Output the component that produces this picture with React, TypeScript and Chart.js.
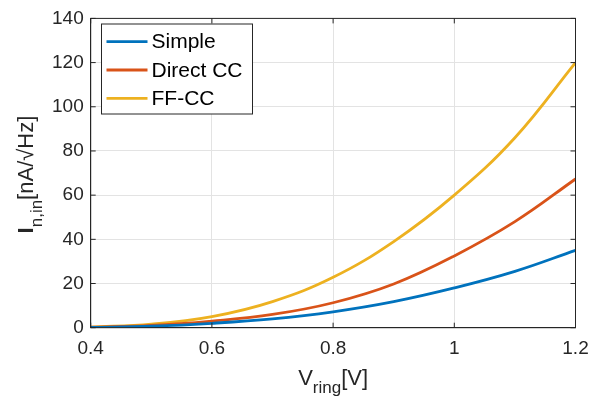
import React, { useEffect, useRef } from "react";
import { Chart, registerables } from "chart.js";

Chart.register(...registerables);

// ---- data ----
const xValues = [0.4, 0.5, 0.6, 0.7, 0.8, 0.9, 1.0, 1.1, 1.2];
const simpleValues = [0.1, 0.7, 2.0, 4.0, 7.2, 11.8, 18, 25.5, 35];
const directCCValues = [0.2, 1.0, 3.0, 6.0, 11.3, 19.8, 32.5, 48, 67.3];
const ffccValues = [0.3, 1.6, 5.0, 11.8, 22.8, 39, 60, 86, 120];

const seriesNames = ["Simple", "Direct CC", "FF-CC"];
const seriesColors = ["#0072BD", "#D95319", "#EDB120"];

const xTicks = [0.4, 0.6, 0.8, 1, 1.2];
const yTicks = [0, 20, 40, 60, 80, 100, 120, 140];

const FONT = "'Liberation Sans', Arial, Helvetica, sans-serif";
const AXIS_COLOR = "#262626";

const toPoints = (xs: number[], ys: number[]) => xs.map((x, i) => ({ x, y: ys[i] }));

const framePlugin = {
  id: "matlabFrame",
  afterDatasetsDraw(chart: any) {
    const { ctx, chartArea: a, scales } = chart;
    ctx.save();
    // box
    ctx.strokeStyle = AXIS_COLOR;
    ctx.lineWidth = 1;
    ctx.strokeRect(a.left, a.top, a.right - a.left, a.bottom - a.top);
    // inward ticks
    const tl = 5;
    ctx.beginPath();
    for (const v of xTicks) {
      const px = scales.x.getPixelForValue(v);
      ctx.moveTo(px, a.bottom);
      ctx.lineTo(px, a.bottom - tl);
      ctx.moveTo(px, a.top);
      ctx.lineTo(px, a.top + tl);
    }
    for (const v of yTicks) {
      const py = scales.y.getPixelForValue(v);
      ctx.moveTo(a.left, py);
      ctx.lineTo(a.left + tl, py);
      ctx.moveTo(a.right, py);
      ctx.lineTo(a.right - tl, py);
    }
    ctx.stroke();

    // legend
    const lx = 101.5, ly = 24, lw = 151, lh = 90;
    ctx.fillStyle = "#ffffff";
    ctx.fillRect(lx, ly, lw, lh);
    ctx.strokeStyle = AXIS_COLOR;
    ctx.lineWidth = 1;
    ctx.strokeRect(lx, ly, lw, lh);
    const rows = [41.7, 70, 98.3];
    ctx.font = `21px ${FONT}`;
    ctx.textBaseline = "middle";
    ctx.textAlign = "left";
    chart.data.datasets.forEach((ds: any, i: number) => {
      ctx.strokeStyle = ds.borderColor;
      ctx.lineWidth = 2.8;
      ctx.beginPath();
      ctx.moveTo(106.5, rows[i]);
      ctx.lineTo(147.5, rows[i]);
      ctx.stroke();
      ctx.fillStyle = "#000000";
      ctx.fillText(ds.label, 151.5, rows[i] + 1);
    });

    // axis titles
    ctx.fillStyle = AXIS_COLOR;
    ctx.textBaseline = "alphabetic";
    // x title: V_ring[V]
    {
      const big = `22px ${FONT}`;
      const small = `17px ${FONT}`;
      ctx.font = big;
      const w1 = ctx.measureText("V").width;
      const w3 = ctx.measureText("[V]").width;
      ctx.font = small;
      const w2 = ctx.measureText("ring").width;
      const total = w1 + w2 + w3;
      const cx = (a.left + a.right) / 2;
      let x = cx - total / 2;
      const base = 385;
      ctx.font = big;
      ctx.fillText("V", x, base);
      x += w1;
      ctx.font = small;
      ctx.fillText("ring", x, base + 8);
      x += w2;
      ctx.font = big;
      ctx.fillText("[V]", x, base);
    }
    // y title: I_{n,in}[nA/√Hz]
    {
      ctx.save();
      const cy = (a.top + a.bottom) / 2 + 1.5;
      ctx.translate(32.5, cy);
      ctx.rotate(-Math.PI / 2);
      const bigI = `bold 22px ${FONT}`;
      const big = `22px ${FONT}`;
      const small = `17px ${FONT}`;
      ctx.font = bigI;
      const w1 = ctx.measureText("I").width;
      ctx.font = small;
      const w2 = ctx.measureText("n,in").width;
      ctx.font = big;
      const w3 = ctx.measureText("[nA/\u221AHz]").width;
      const total = w1 + w2 + w3;
      let x = -total / 2;
      ctx.font = bigI;
      ctx.fillText("I", x, 0);
      x += w1;
      ctx.font = small;
      ctx.fillText("n,in", x, 9);
      x += w2;
      ctx.font = big;
      ctx.fillText("[nA/\u221AHz]", x, 0);
      ctx.restore();
    }
    ctx.restore();
  },
};

export default function App() {
  const ref = useRef<HTMLCanvasElement | null>(null);

  useEffect(() => {
    if (!ref.current) return;
    const datasets = [
      { label: seriesNames[0], data: toPoints(xValues, simpleValues), borderColor: seriesColors[0] },
      { label: seriesNames[1], data: toPoints(xValues, directCCValues), borderColor: seriesColors[1] },
      { label: seriesNames[2], data: toPoints(xValues, ffccValues), borderColor: seriesColors[2] },
    ].map((d) => ({
      ...d,
      backgroundColor: d.borderColor,
      borderWidth: 2.8,
      pointRadius: 0,
      fill: false,
      tension: 0.4,
    }));

    const chart = new Chart(ref.current, {
      type: "line",
      data: { datasets },
      options: {
        responsive: false,
        animation: false,
        layout: { padding: { left: 0, top: 13.5, right: 30.5, bottom: 0 } },
        plugins: { legend: { display: false }, tooltip: { enabled: false } },
        scales: {
          x: {
            type: "linear",
            min: 0.4,
            max: 1.2,
            afterBuildTicks: (s: any) => {
              s.ticks = xTicks.map((v) => ({ value: v }));
            },
            afterFit: (s: any) => {
              s.height = 71.3;
            },
            grid: { color: "#e3e3e3", drawTicks: false, lineWidth: 1 },
            border: { display: true, color: AXIS_COLOR },
            ticks: {
              padding: 10,
              color: AXIS_COLOR,
              font: { family: FONT, size: 19 },
              maxRotation: 0,
              callback: (v: any) => String(Number(v)),
            },
          },
          y: {
            type: "linear",
            min: 0,
            max: 140,
            afterBuildTicks: (s: any) => {
              s.ticks = yTicks.map((v) => ({ value: v }));
            },
            afterFit: (s: any) => {
              s.width = 90.7;
            },
            grid: { color: "#e3e3e3", drawTicks: false, lineWidth: 1 },
            border: { display: true, color: AXIS_COLOR },
            ticks: {
              padding: 7,
              color: AXIS_COLOR,
              font: { family: FONT, size: 19 },
              callback: (v: any) => String(v),
            },
          },
        },
      },
      plugins: [framePlugin],
    });
    return () => chart.destroy();
  }, []);

  return (
    <div style={{ position: "fixed", left: 0, top: 0, width: 606, height: 399, background: "#fff" }}>
      <canvas ref={ref} width={606} height={399} style={{ display: "block" }} />
    </div>
  );
}
